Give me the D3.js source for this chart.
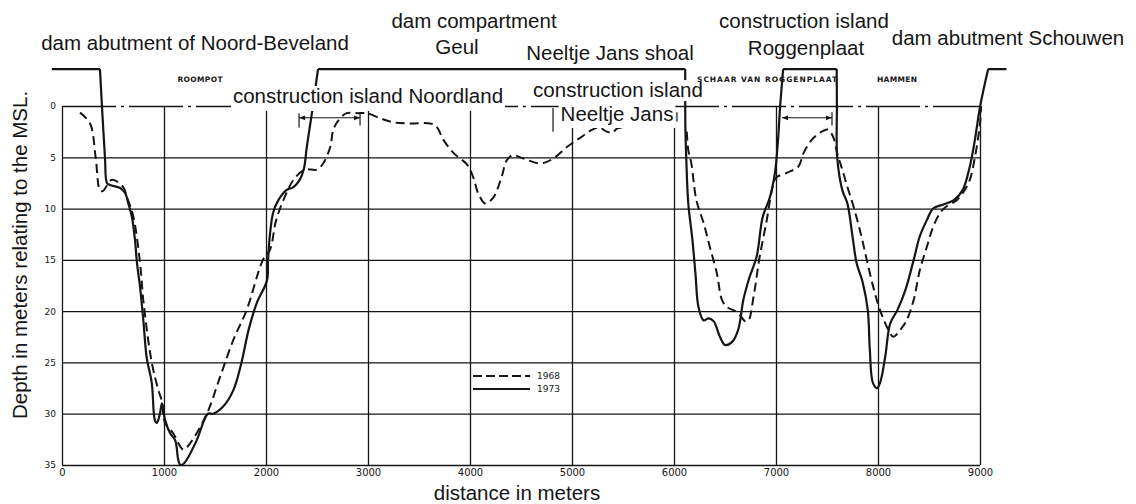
<!DOCTYPE html>
<html><head><meta charset="utf-8">
<script src="https://cdn.jsdelivr.net/npm/d3@7"></script>
<style>body{margin:0;background:#fff}svg{display:block}</style>
</head><body>
<svg id="c" width="1136" height="504"></svg>
<script>
// ---------- data ----------
const xTicks = [0, 1000, 2000, 3000, 4000, 5000, 6000, 7000, 8000, 9000];
const yTicks = [0, 5, 10, 15, 20, 25, 30, 35];
const seriesNames = ["1968", "1973"];
const crestDepth = -3.6; // top of dam abutments / compartment / islands

// 1973 profile (solid), incl. dam abutments / compartment / island crests
const dist1973 = [-100, 372, 421, 441, 470, 570, 620, 650, 685, 715,
  735, 765, 785, 800, 830, 880, 910, 930, 960, 980,
  1010, 1060, 1110, 1140, 1160, 1200, 1320, 1430, 1480, 1580,
  1680, 1760, 1830, 1910, 2010, 2020, 2040, 2070, 2120, 2200,
  2270, 2330, 2370, 2400, 2450, 2510, 6110, 6112, 6120, 6140,
  6180, 6210, 6240, 6290, 6340, 6390, 6450, 6500, 6570, 6630,
  6680, 6740, 6810, 6870, 6940, 6990, 7020, 7040, 7070, 7595,
  7597, 7600, 7650, 7700, 7750, 7790, 7850, 7900, 7920, 7950,
  7990, 8020, 8070, 8120, 8190, 8270, 8350, 8410, 8480, 8540,
  8640, 8740, 8830, 8900, 8950, 9000, 9080, 9260];
const depth1973 = [-3.6, -3.6, 5, 7.5, 7.7, 8, 8.5, 9.5, 10.8, 13,
  15.3, 17.6, 19.6, 21.2, 24.5, 27, 30.6, 30.9, 30, 29,
  30.6, 31.9, 32.6, 34.5, 35, 34.8, 32.6, 30, 30, 29.3,
  27.7, 25, 21.8, 19.2, 17, 15, 12.4, 10.4, 9.2, 8.2,
  7.9, 7.2, 6.2, 4, 0.7, -3.6, -3.6, 2.3, 5, 9.5,
  13, 16.3, 19.6, 20.9, 20.7, 21, 22.5, 23.3, 23, 21.8,
  18.9, 16.7, 14.7, 10.8, 8.9, 6.5, 3.3, 0.1, -3.6, -3.6,
  0, 5, 8.2, 9.5, 12.7, 15.3, 17.2, 19.9, 23.8, 27,
  27.5, 27, 24.5, 21.2, 19.9, 17.9, 15, 12.7, 11.1, 10,
  9.6, 9.2, 8.2, 5.9, 3.3, 0.1, -3.6, -3.6];

// 1968 profile (dashed), two stretches
const dist1968a = [176, 275, 330, 372, 400, 490, 600, 637, 700, 765,
  800, 880, 945, 980, 1010, 1090, 1190, 1255, 1420, 1550,
  1680, 1810, 1970, 2040, 2100, 2200, 2270, 2380, 2500, 2560,
  2630, 2660, 2710, 2790, 2900, 2990, 3120, 3250, 3410, 3610,
  3670, 3740, 3840, 3970, 4030, 4080, 4150, 4230, 4310, 4360,
  4420, 4520, 4690, 4820, 4950, 5080, 5200, 5270, 5340, 5400,
  5440, 5650];
const depth1968a = [0.65, 1.7, 5, 8.2, 8.3, 7.2, 7.9, 8.9, 10.8, 15.3,
  19.2, 25, 27.7, 28.8, 30.9, 31.9, 33.5, 32.9, 30, 26.4,
  22.8, 19.9, 15, 14, 11.1, 8.5, 7.2, 6.2, 6.2, 5.6,
  4, 2.3, 1.4, 0.7, 0.7, 0.7, 1.2, 1.6, 1.7, 1.7,
  2, 3.3, 4.6, 5.7, 6.9, 8.5, 9.5, 8.9, 6.9, 5.3,
  4.8, 5.1, 5.6, 5.1, 4, 3.1, 2.3, 2.1, 2.5, 2.6,
  2.2, 2.0];
const dist1968b = [6125, 6140, 6170, 6220, 6290, 6350, 6420, 6470, 6520, 6620,
  6700, 6730, 6780, 6840, 6910, 6960, 7000, 7110, 7220, 7270,
  7350, 7430, 7510, 7560, 7600, 7650, 7700, 7760, 7830, 7890,
  7960, 8020, 8100, 8150, 8220, 8280, 8350, 8410, 8480, 8540,
  8610, 8670, 8770, 8830, 8900, 8950, 9000, 9010];
const depth1968b = [2.5, 4.3, 5.6, 9.2, 11.4, 13.7, 16.3, 18.9, 19.6, 20.1,
  21, 20.9, 18.6, 14.7, 11.1, 8.2, 7, 6.5, 5.9, 4.6,
  3.3, 2.6, 2.3, 3, 4.6, 6.2, 7.9, 9.8, 12.4, 15,
  17.9, 19.9, 21.8, 22.5, 21.8, 20.9, 18.9, 16, 13.7, 11.8,
  10.4, 9.8, 9.2, 8.5, 7.2, 5, 1.7, 0];

// construction island extents (distance, m)
const islandSpans = [[2324, 2922], [7059, 7549]];
const neeltjeTicks = [4814, 6029];

// ---------- drawing ----------
const svg = d3.select('#c');
const ink = '#151515';
const x = d3.scaleLinear().domain([0, 9000]).range([62, 980]);
const y = d3.scaleLinear().domain([0, 35]).range([106, 465]);

const defs = svg.append('defs');
defs.append('marker').attr('id', 'ah').attr('viewBox', '0 0 10 10')
  .attr('refX', 10).attr('refY', 5).attr('markerWidth', 7).attr('markerHeight', 6)
  .attr('orient', 'auto-start-reverse').attr('markerUnits', 'userSpaceOnUse')
  .append('path').attr('d', 'M0,1 L10,5 L0,9 Z').attr('fill', ink);

// vertical grid + frame sides
const gx = svg.append('g').attr('transform', `translate(0,${y(35)})`)
  .call(d3.axisBottom(x).tickValues(xTicks).tickSize(-(y(35) - y(0))).tickFormat(''));
gx.select('.domain').remove();
gx.selectAll('line').attr('stroke', ink).attr('stroke-width', 1.3);

// horizontal grid (0 = MSL as dash-dot)
const gy = svg.append('g').attr('transform', `translate(${x(0)},0)`)
  .call(d3.axisLeft(y).tickValues(yTicks).tickSize(-(x(9000) - x(0))).tickFormat(''));
gy.select('.domain').remove();
gy.selectAll('line').attr('stroke', ink).attr('stroke-width', 1.3)
  .attr('stroke-dasharray', d => d === 0 ? '54,5,3,5' : null);

// tick labels
const lx = svg.append('g').attr('transform', `translate(0,${y(35)})`)
  .call(d3.axisBottom(x).tickValues(xTicks).tickSize(0).tickPadding(4).tickFormat(d3.format('d')));
lx.select('.domain').remove();
lx.selectAll('text').attr('font-family', 'DejaVu Sans').attr('font-size', 10).attr('fill', ink);

const ly = svg.append('g').attr('transform', `translate(${x(0)},0)`)
  .call(d3.axisLeft(y).tickValues(yTicks).tickSize(0).tickPadding(6).tickFormat(d3.format('d')));
ly.select('.domain').remove();
ly.selectAll('text').attr('font-family', 'DejaVu Sans').attr('font-size', 9).attr('fill', ink);

// profiles
const line = d3.line().x(d => x(d[0])).y(d => y(d[1])).curve(d3.curveCatmullRom.alpha(0.5));
const zipS = (a, b) => a.map((v, i) => [v, b[i]]);

// split a profile at crest points so crest corners stay sharp
function profilePath(pts) {
  const pieces = [];
  let cur = [pts[0]];
  for (let i = 1; i < pts.length; i++) {
    cur.push(pts[i]);
    if (pts[i][1] === crestDepth) { pieces.push(cur); cur = [pts[i]]; }
  }
  if (cur.length > 1) pieces.push(cur);
  return pieces.map(p => line(p)).join('');
}

svg.append('path').attr('d', line(zipS(dist1968a, depth1968a)))
  .attr('fill', 'none').attr('stroke', ink).attr('stroke-width', 2).attr('stroke-dasharray', '9,5');
svg.append('path').attr('d', line(zipS(dist1968b, depth1968b)))
  .attr('fill', 'none').attr('stroke', ink).attr('stroke-width', 2).attr('stroke-dasharray', '9,5');
svg.append('path').attr('d', profilePath(zipS(dist1973, depth1973)))
  .attr('fill', 'none').attr('stroke', ink).attr('stroke-width', 2.2).attr('stroke-linejoin', 'round');

// island span arrows
islandSpans.forEach((s, i) => {
  svg.append('line').attr('x1', x(s[0])).attr('x2', x(s[1]))
    .attr('y1', y(1.15)).attr('y2', y(1.15))
    .attr('stroke', ink).attr('stroke-width', 1.1)
    .attr('marker-start', 'url(#ah)').attr('marker-end', 'url(#ah)');
  if (i === 0) {
    svg.append('line').attr('x1', x(s[0])).attr('x2', x(s[0])).attr('y1', y(0.7)).attr('y2', y(2.1))
      .attr('stroke', ink).attr('stroke-width', 1.2);
  }
  svg.append('line').attr('x1', x(s[1])).attr('x2', x(s[1])).attr('y1', y(0.6)).attr('y2', y(1.9))
    .attr('stroke', ink).attr('stroke-width', 1.2);
});
svg.append('line').attr('x1', x(neeltjeTicks[0])).attr('x2', x(neeltjeTicks[0]))
  .attr('y1', y(0.2)).attr('y2', y(2.5)).attr('stroke', ink).attr('stroke-width', 1.2);
svg.append('line').attr('x1', x(neeltjeTicks[1])).attr('x2', x(neeltjeTicks[1]))
  .attr('y1', y(0.6)).attr('y2', y(1.5)).attr('stroke', ink).attr('stroke-width', 1.2);

// big annotation labels with white backing
function label(txt, cx, base, padB) {
  const t = svg.append('text').attr('x', cx).attr('y', base).attr('text-anchor', 'middle')
    .attr('font-family', 'Liberation Sans, Arial, sans-serif').attr('font-size', 20.5)
    .attr('fill', ink).text(txt);
  const b = t.node().getBBox();
  svg.insert('rect', () => t.node()).attr('x', b.x - 2).attr('y', b.y + 2)
    .attr('width', b.width + 4).attr('height', b.height - 2 + (padB || 0)).attr('fill', '#fff');
}
label('dam abutment of Noord-Beveland', 195, 50);
label('dam compartment', 474, 28);
label('Geul', 457, 54);
label('Neeltje Jans shoal', 610, 60);
label('construction island Noordland', 368, 103, 4);
label('construction island', 618, 97);
label('Neeltje Jans', 617, 121, 3);
label('construction island', 804, 28);
label('Roggenplaat', 806, 55);
label('dam abutment Schouwen', 1008, 45);

// small channel names
[['ROOMPOT', 200, 45], ['SCHAAR VAN ROGGENPLAAT', 767, 140], ['HAMMEN', 897, 40]].forEach(d => {
  svg.append('text').attr('x', d[1]).attr('y', 82).attr('text-anchor', 'middle')
    .attr('font-family', 'DejaVu Sans').attr('font-weight', 'bold').attr('font-size', 7.5)
    .attr('textLength', d[2]).attr('lengthAdjust', 'spacing')
    .attr('fill', ink).text(d[0]);
});

// legend
const lg = svg.append('g');
[['1968', 376, '9,4'], ['1973', 389, null]].forEach(d => {
  lg.append('line').attr('x1', 473).attr('x2', 530).attr('y1', d[1]).attr('y2', d[1])
    .attr('stroke', ink).attr('stroke-width', 2).attr('stroke-dasharray', d[2]);
  lg.append('text').attr('x', 537).attr('y', d[1] - 0.5).attr('dy', '0.35em')
    .attr('font-family', 'DejaVu Sans').attr('font-size', 9).attr('fill', ink).text(d[0]);
});

// axis titles
svg.append('text').attr('x', 517).attr('y', 500).attr('text-anchor', 'middle')
  .attr('font-family', 'Liberation Sans, Arial, sans-serif').attr('font-size', 20.5)
  .attr('fill', ink).text('distance in meters');
svg.append('text').attr('transform', 'translate(27,255) rotate(-90)').attr('text-anchor', 'middle')
  .attr('font-family', 'Liberation Sans, Arial, sans-serif').attr('font-size', 20.5)
  .attr('fill', ink).text('Depth in meters relating to the MSL.');
</script>
</body></html>
